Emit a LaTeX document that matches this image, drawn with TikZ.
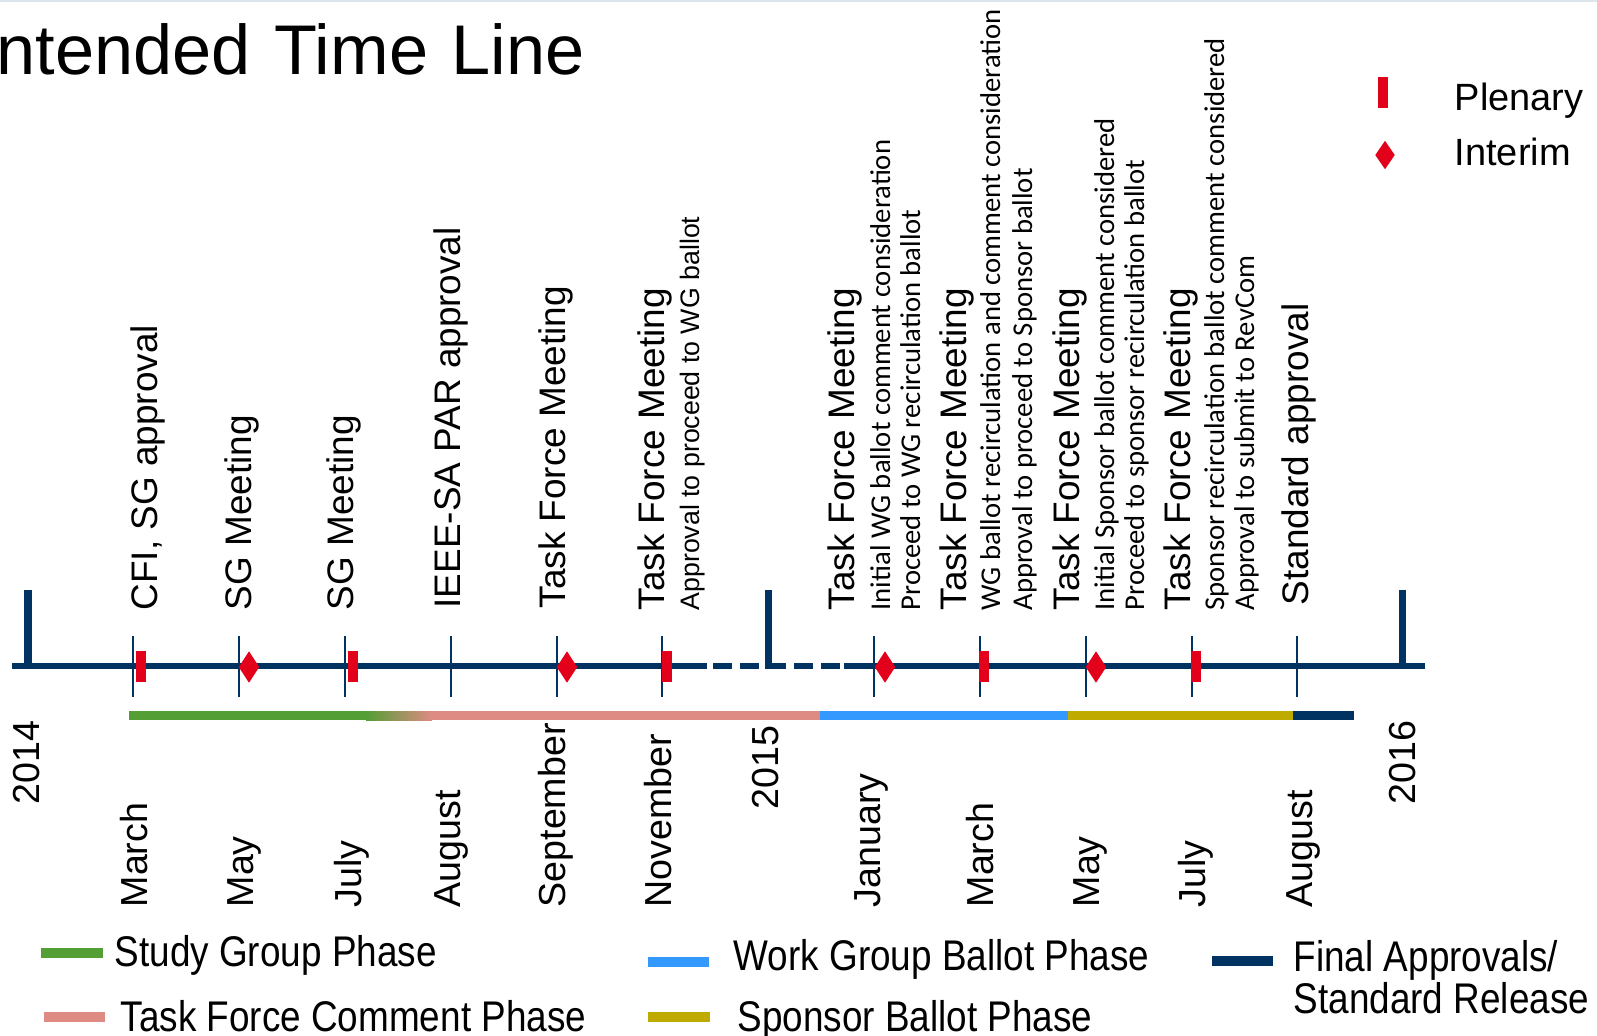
\documentclass[tikz,border=0pt]{standalone}
\usepackage{fontspec}
\setmainfont{Liberation Sans}
\newfontfamily\narrowsans{Liberation Sans}[FakeStretch=0.86]
\newfontfamily\notesans{Carlito}
\usetikzlibrary{shapes.geometric}
\definecolor{tlnavy}{RGB}{0,50,98}
\definecolor{tlred}{RGB}{226,0,26}
\definecolor{tlgreen}{RGB}{84,158,54}
\definecolor{tlpink}{RGB}{221,139,131}
\definecolor{tlblue}{RGB}{51,153,255}
\definecolor{tlolive}{RGB}{191,170,0}
\definecolor{tlborder}{RGB}{220,228,236}
\begin{document}
\begin{tikzpicture}[
    x=0.01cm, y=-0.01cm,
    event/.style={rotate=90, anchor=base west, inner sep=0pt, font=\fontsize{10.5}{12}\selectfont},
    note/.style={rotate=90, anchor=base west, inner sep=0pt, font=\notesans\fontsize{8.15}{10}\selectfont},
    month/.style={rotate=90, anchor=base west, inner sep=0pt, font=\fontsize{10.7}{12}\selectfont},
    plenary/.style={rectangle, fill=tlred, inner sep=0pt, minimum width=0.1cm, minimum height=0.31cm},
    interim/.style={diamond, fill=tlred, inner sep=0pt, minimum width=0.21cm, minimum height=0.32cm},
    swatch/.style={line width=0.1cm},
    legtext/.style={anchor=base west, inner sep=0pt, font=\narrowsans\fontsize{12.2}{14}\selectfont}
  ]
  \useasboundingbox (0,0) rectangle (1597,1035);
  \draw [tlborder, line width=0.02cm] (0,1) -- (1597,1);

  \node (title) at (-4,74) [anchor=base west, inner sep=0pt, font=\fontsize{20}{24}\selectfont] {ntended\hspace{0.04cm} Time\hspace{0.04cm} Line};

  % axis
  \coordinate (ax-w) at (12,666);
  \coordinate (ax-e) at (1425,666);
  \draw [tlnavy, line width=0.06cm] (ax-w) -- (707,666);
  \draw [tlnavy, line width=0.06cm, dash pattern=on 0.19cm off 0.08cm] (713,666) -- (840,666);
  \draw [tlnavy, line width=0.06cm] (844,666) -- (ax-e);

  \foreach \x in {28,768,1402}
    \draw [tlnavy, line width=0.07cm] (\x,590) -- (\x,669);
  \foreach \x in {133,239,345,451,557,662,874,980,1086,1192,1297}
    \draw [tlnavy, line width=0.02cm] (\x,636) -- (\x,697);

  % meetings
  \node (p1) at (141,666.5)  [plenary] {};
  \node (p2) at (353,666.5)  [plenary] {};
  \node (p3) at (667,666.5)  [plenary] {};
  \node (p4) at (984,666.5)  [plenary] {};
  \node (p5) at (1196,666.5) [plenary] {};
  \node (i1) at (249,667)  [interim] {};
  \node (i2) at (567,667)  [interim] {};
  \node (i3) at (885,667)  [interim] {};
  \node (i4) at (1096,667) [interim] {};

  % phases
  \fill [tlgreen] (129,711) rectangle (367,720);
  \shade [left color=tlgreen, right color=tlpink] (366,711) rectangle (432,720);
  \fill [tlpink]  (431,711) rectangle (820,720);
  \fill [tlblue]  (820,711) rectangle (1068,720);
  \fill [tlolive] (1068,711) rectangle (1293,720);
  \fill [tlnavy]  (1293,711) rectangle (1354,720);

  % events
  \node (e1) at (157,611) [event] {CFI, SG approval};
  \node (e2) at (251,611) [event] {SG Meeting};
  \node (e3) at (353,611) [event] {SG Meeting};
  \node (e4) at (460,609) [event] {IEEE-SA PAR approval};
  \node (e5) at (565,609) [event] {Task Force Meeting};
  \node (e6) at (664,611) [event] {Task Force Meeting};
  \node (n6) at (699,611) [event, font=\fontsize{7.6}{9}\selectfont] {Approval to proceed to WG ballot};
  \node (e7) at (854,611) [event] {Task Force Meeting};
  \node (n7a) at (890,611) [note] {Initial WG ballot comment consideration};
  \node (n7b) at (920,611) [note] {Proceed to WG recirculation ballot};
  \node (e8) at (966,611) [event] {Task Force Meeting};
  \node (n8a) at (1000,611) [note] {WG ballot recirculation and comment consideration};
  \node (n8b) at (1032,611) [note] {Approval to proceed to Sponsor ballot};
  \node (e9) at (1079,611) [event] {Task Force Meeting};
  \node (n9a) at (1114,611) [note] {Initial Sponsor ballot comment considered};
  \node (n9b) at (1144,611) [note] {Proceed to sponsor recirculation ballot};
  \node (e10) at (1190,611) [event] {Task Force Meeting};
  \node (n10a) at (1224,611) [note] {Sponsor recirculation ballot comment considered};
  \node (n10b) at (1254,611) [note] {Approval to submit to RevCom};
  \node (e11) at (1308,606) [event] {Standard approval};

  % dates
  \node (y14) at (39,805)   [month] {2014};
  \node (y15) at (778,810)  [month] {2015};
  \node (y16) at (1415,805) [month] {2016};
  \node (mar14) at (147,908) [month] {March};
  \node (may14) at (253,908) [month] {May};
  \node (jul14) at (361,908) [month] {July};
  \node (aug14) at (460,908) [month] {August};
  \node (sep14) at (565,908) [month] {September};
  \node (nov14) at (671,908) [month] {November};
  \node (jan15) at (880,908) [month] {January};
  \node (mar15) at (993,908) [month] {March};
  \node (may15) at (1099,908) [month] {May};
  \node (jul15) at (1205,908) [month] {July};
  \node (aug15) at (1312,908) [month] {August};

  % legends
  \node (kp) at (1382.5,92) [plenary] {};
  \node (ki) at (1385,155) [interim, minimum width=0.2cm, minimum height=0.29cm] {};
  \node (kpt) at (1454,110) [anchor=base west, inner sep=0pt, font=\fontsize{10.8}{12}\selectfont] {Plenary};
  \node (kit) at (1454,165) [anchor=base west, inner sep=0pt, font=\fontsize{10.8}{12}\selectfont] {Interim};

  \draw [swatch, tlgreen] (41,953) -- (103,953);
  \draw [swatch, tlpink]  (44,1017) -- (105,1017);
  \draw [swatch, tlblue]  (648,962) -- (709,962);
  \draw [swatch, tlolive] (648,1017) -- (710,1017);
  \draw [swatch, tlnavy]  (1212,961) -- (1273,961);
  \node (l1) at (114,966)  [legtext] {Study Group Phase};
  \node (l2) at (120,1031) [legtext] {Task Force Comment Phase};
  \node (l3) at (733,970)  [legtext] {Work Group Ballot Phase};
  \node (l4) at (737,1031) [legtext] {Sponsor Ballot Phase};
  \node (l5) at (1293,971) [legtext] {Final Approvals/};
  \node (l6) at (1293,1013) [legtext] {Standard Release};
\end{tikzpicture}
\end{document}
